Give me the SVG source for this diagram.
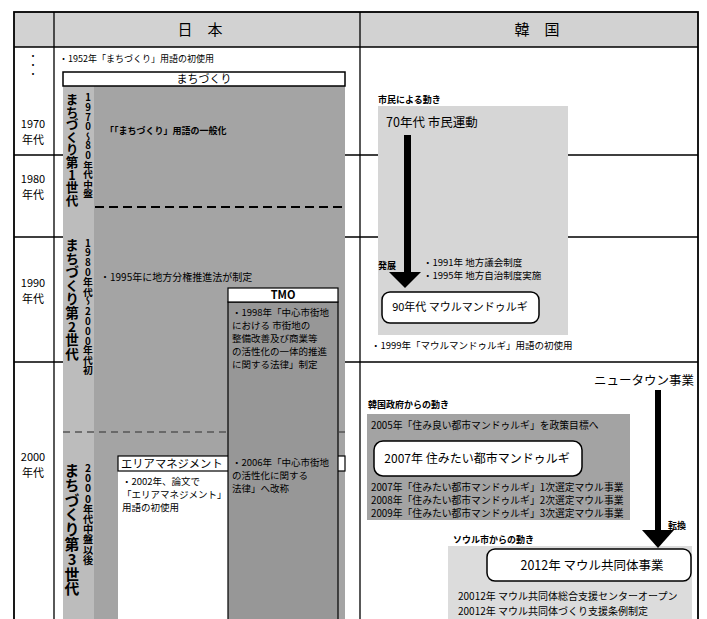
<svg xmlns="http://www.w3.org/2000/svg" width="707" height="619" viewBox="0 0 707 619">
<defs>
<style>
text{font-family:"Noto Sans CJK JP","Noto Sans",sans-serif;fill:#000}
.s{font-size:9.5px}
.sb{font-size:9px;font-weight:bold}
.line{stroke:#000;stroke-width:1.3;fill:none}
.box{fill:#fff;stroke:#000;stroke-width:1.5}
.vt{writing-mode:vertical-rl;text-orientation:upright}
.c{text-anchor:middle}
</style>
</defs>
<rect width="707" height="619" fill="#fff"/>
<g id="table">
<rect x="14" y="12" width="684" height="35" fill="#d2d2d2"/>
<path class="line" d="M14 155H698M14 237H698M14 362H698"/>
</g>
<g id="header">
<text x="200" y="35" class="c" font-size="15">日　本</text>
<text x="537" y="35" class="c" font-size="15">韓　国</text>
</g>
<g id="years" font-size="11">
<text x="33" y="51" class="vt" font-size="9">・・・</text>
<text x="33" y="128" class="c">1970</text><text x="33" y="144" class="c">年代</text>
<text x="33" y="183" class="c">1980</text><text x="33" y="199" class="c">年代</text>
<text x="33" y="287" class="c">1990</text><text x="33" y="303" class="c">年代</text>
<text x="33" y="461" class="c">2000</text><text x="33" y="477" class="c">年代</text>
</g>
<g id="japan">
<text x="59" y="62" font-size="9">・1952年「まちづくり」用語の初使用</text>
<rect x="63" y="86" width="282" height="533" fill="#a4a4a4"/>
<rect x="63" y="86" width="31" height="533" fill="#bcbcbc"/>
<g id="machizukuri">
<rect x="63" y="72" width="282" height="14" class="box"/>
<text x="204" y="83" class="c" font-size="11">まちづくり</text>
</g>
<g id="gen1">
<text x="72" y="93" class="vt" font-size="12.6" font-weight="bold">まちづくり第1世代</text>
<text x="88" y="93" class="vt" font-size="9.6" font-weight="bold">1970〜80年代中盤</text>
</g>
<text x="105" y="134" class="sb">「「まちづくり」用語の一般化</text>
<line x1="95" y1="207" x2="345" y2="207" stroke="#000" stroke-width="2" stroke-dasharray="9 5"/>
<g id="gen2">
<text x="72" y="238" class="vt" font-size="13.6" font-weight="bold">まちづくり第2世代</text>
<text x="88" y="238" class="vt" font-size="9.8" font-weight="bold">1980年代〜2000年代初</text>
</g>
<text x="100" y="281" font-size="10">・1995年に地方分権推進法が制定</text>
<line x1="63" y1="432" x2="345" y2="432" stroke="#555" stroke-width="1.5" stroke-dasharray="7 5"/>
<g id="gen3">
<text x="72" y="463" class="vt" font-size="14.8" font-weight="bold">まちづくり第3世代</text>
<text x="88" y="463" class="vt" font-size="10.2" font-weight="bold">2000年代中盤以後</text>
</g>
<g id="areamanagement">
<rect x="118" y="471" width="110" height="148" fill="#fff"/>
<rect x="118" y="456" width="227" height="15" fill="#fff" stroke="#000" stroke-width="1.2"/>
<text x="121" y="468" font-size="11.3">エリアマネジメント</text>
<text x="122" y="485" class="s">・2002年、論文で</text>
<text x="122" y="498" class="s">「エリアマネジメント」</text>
<text x="122" y="511" class="s">用語の初使用</text>
</g>
<g id="tmo">
<rect x="228" y="302" width="110" height="330" fill="#979797" stroke="#000" stroke-width="1.2"/>
<rect x="228" y="288" width="110" height="14" fill="#fff" stroke="#000" stroke-width="1.2"/>
<text x="283" y="299" class="c" font-size="11" font-weight="bold">TMO</text>
<text x="232" y="316" class="s">・1998年「中心市街地</text>
<text x="232" y="329" class="s">における 市街地の</text>
<text x="232" y="342" class="s">整備改善及び商業等</text>
<text x="232" y="355" class="s">の活性化の一体的推進</text>
<text x="232" y="368" class="s">に関する法律」制定</text>
<text x="232" y="466" class="s">・2006年「中心市街地</text>
<text x="232" y="479" class="s">の活性化に関する</text>
<text x="232" y="492" class="s">法律」へ改称</text>
</g>
</g>
<g id="korea">
<g id="citizen">
<rect x="378" y="106" width="190" height="229" fill="#d6d6d6"/>
<text x="378" y="103" class="sb">市民による動き</text>
<text x="386" y="127" font-size="12.5">70年代 市民運動</text>
<text x="378" y="269" class="sb">発展</text>
<text x="423" y="266" class="s">・1991年 地方議会制度</text>
<text x="423" y="279" class="s">・1995年 地方自治制度実施</text>
</g>
<g id="maul90">
<rect x="382" y="292" width="157" height="31" rx="8" class="box"/>
<text x="460" y="311" class="c" font-size="11">90年代 マウルマンドゥルギ</text>
</g>
<text x="371" y="349" class="s">・1999年「マウルマンドゥルギ」用語の初使用</text>
<text x="694" y="385" text-anchor="end" font-size="12.5">ニュータウン事業</text>
<g id="government">
<text x="368" y="408" class="sb">韓国政府からの動き</text>
<rect x="367" y="414" width="263" height="106" fill="#a3a3a3"/>
<text x="371" y="429" font-size="9.8">2005年「住み良い都市マンドゥルギ」を政策目標へ</text>
<rect x="374" y="441" width="208" height="35" rx="9" class="box"/>
<text x="477" y="463" class="c" font-size="12">2007年 住みたい都市マンドゥルギ</text>
<text x="371" y="491" font-size="9.8">2007年「住みたい都市マンドゥルギ」1次選定マウル事業</text>
<text x="371" y="504" font-size="9.8">2008年「住みたい都市マンドゥルギ」2次選定マウル事業</text>
<text x="371" y="517" font-size="9.8">2009年「住みたい都市マンドゥルギ」3次選定マウル事業</text>
</g>
<text x="668" y="529" class="sb">転換</text>
<g id="seoul">
<text x="453" y="543" class="sb">ソウル市からの動き</text>
<rect x="448" y="546" width="244" height="73" fill="#dcdcdc"/>
<rect x="487" y="549" width="204" height="32" rx="8" class="box"/>
<text x="592" y="570" class="c" font-size="12.5">2012年 マウル共同体事業</text>
<text x="458" y="600" font-size="10">20012年 マウル共同体総合支援センターオープン</text>
<text x="458" y="615" font-size="10">20012年 マウル共同体づくり支援条例制定</text>
</g>
</g>
<g id="connectors">
<rect x="404" y="135" width="7" height="138"/>
<polygon points="389,272 421,272 405,288"/>
<rect x="655" y="390" width="6" height="141"/>
<polygon points="642,530 674,530 658,548"/>
</g>
<g id="frame">
<path class="line" d="M14 47H698M54 12V619M360 12V619" stroke-width="1.5"/>
<rect x="14" y="12" width="684" height="620" fill="none" stroke="#000" stroke-width="1.8"/>
</g>
</svg>
